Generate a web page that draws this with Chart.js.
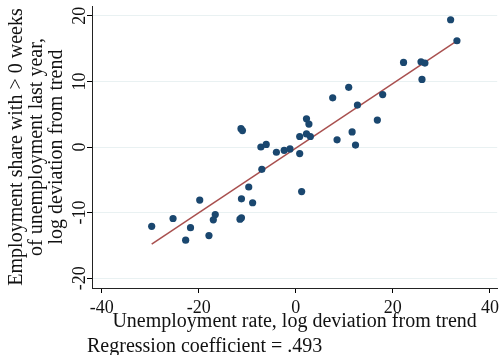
<!DOCTYPE html>
<html>
<head>
<meta charset="utf-8">
<script src="https://cdn.jsdelivr.net/npm/chart.js@4"></script>
<style>
  body { margin: 0; background: #fff; }
  #wrap { width: 503px; height: 355px; }
</style>
</head>
<body>
<div id="wrap"><canvas id="chart"></canvas></div>
<script>
// unemployment rate deviation (x) vs employment share deviation (y)
const unempDev = [31.9, 33.2, 22.2, 25.8, 26.6, 26.0, 10.9, 7.6, 17.9, 12.7,
  2.2, 2.7, 16.8, 0.8, 2.2, 3.0, 8.5, 11.6, 12.3, -1.2,
  0.8, 1.2, -11.3, -11.0, -7.2, -6.1, -4.0, -2.4, -7.0, -9.7,
  -11.2, -8.9, -19.8, -16.6, -17.0, -11.2, -11.5, -25.3, -29.7, -21.7,
  -17.9, -22.7];
const shareDev = [19.4, 16.2, 12.9, 13.0, 12.8, 10.3, 9.1, 7.5, 8.0, 6.4,
  4.3, 3.5, 4.1, 1.6, 2.0, 1.6, 1.1, 2.3, 0.3, -0.3,
  -1.0, -6.8, 2.8, 2.5, 0.0, 0.4, -0.8, -0.5, -3.4, -6.1,
  -7.9, -8.5, -8.1, -10.3, -11.1, -10.8, -11.0, -10.9, -12.1, -12.3,
  -13.5, -14.2];

// fitted line end points
const fitX = [-29.7, 33.2];
const fitY = [-14.8, 16.2];

const xTicks = [-40, -20, 0, 20, 40];
const yTicks = [-20, -10, 0, 10, 20];

const NOTE = "Regression coefficient = .493";
const FONT = "'Liberation Serif', 'DejaVu Serif', serif";

const scatterPts = unempDev.map((x, i) => ({ x: x, y: shareDev[i] }));
const fitPts = fitX.map((x, i) => ({ x: x, y: fitY[i] }));

const notePlugin = {
  id: "note",
  afterDraw(chart) {
    const ctx = chart.ctx;
    ctx.save();
    ctx.font = "20px " + FONT;
    ctx.fillStyle = "#111";
    ctx.textAlign = "left";
    ctx.textBaseline = "alphabetic";
    ctx.fillText(NOTE, 87, 352);
    ctx.restore();
  },
};

new Chart(document.getElementById("chart"), {
  type: "scatter",
  data: {
    datasets: [
      {
        type: "line",
        data: fitPts,
        borderColor: "#a9504f",
        borderWidth: 1.5,
        pointRadius: 0,
        fill: false,
        order: 2,
      },
      {
        data: scatterPts,
        backgroundColor: "#1a476f",
        borderColor: "#1a476f",
        borderWidth: 0,
        pointRadius: 3.6,
        order: 1,
      },
    ],
  },
  options: {
    responsive: true,
    maintainAspectRatio: false,
    animation: false,
    layout: { padding: { left: 0, right: 3, top: 6, bottom: 0 } },
    plugins: {
      legend: { display: false },
      tooltip: { enabled: false },
    },
    scales: {
      x: {
        type: "linear",
        min: -42,
        max: 41.5,
        afterBuildTicks: (s) => { s.ticks = xTicks.map((v) => ({ value: v })); },
        afterFit: (s) => { s.height = 67; },
        grid: {
          drawOnChartArea: false,
          drawTicks: true,
          tickLength: 5,
          tickColor: "#000",
        },
        border: { display: true, color: "#222", width: 1 },
        ticks: {
          padding: 4,
          color: "#111",
          font: { family: FONT, size: 18 },
          maxRotation: 0,
          autoSkip: false,
        },
        title: {
          display: true,
          text: "Unemployment rate, log deviation from trend",
          color: "#111",
          font: { family: FONT, size: 20 },
          padding: { top: 0, bottom: 21 },
        },
      },
      y: {
        type: "linear",
        min: -21.5,
        max: 21.5,
        afterBuildTicks: (s) => { s.ticks = yTicks.map((v) => ({ value: v })); },
        afterFit: (s) => { s.width = 92; },
        grid: {
          color: "#e9f1f2",
          lineWidth: 1,
          drawTicks: true,
          tickLength: 5,
          tickColor: "#000",
        },
        border: { display: true, color: "#222", width: 1 },
        ticks: {
          minRotation: 90,
          maxRotation: 90,
          crossAlign: "center",
          padding: -5,
          color: "#111",
          font: { family: FONT, size: 18 },
          autoSkip: false,
        },
        title: {
          display: true,
          text: [
            "Employment share with > 0 weeks",
            "of unemployment last year,",
            "log deviation from trend",
          ],
          color: "#111",
          font: { family: FONT, size: 20, lineHeight: 1 },
          padding: { top: 7, bottom: 0 },
        },
      },
    },
  },
  plugins: [notePlugin],
});
</script>
</body>
</html>
